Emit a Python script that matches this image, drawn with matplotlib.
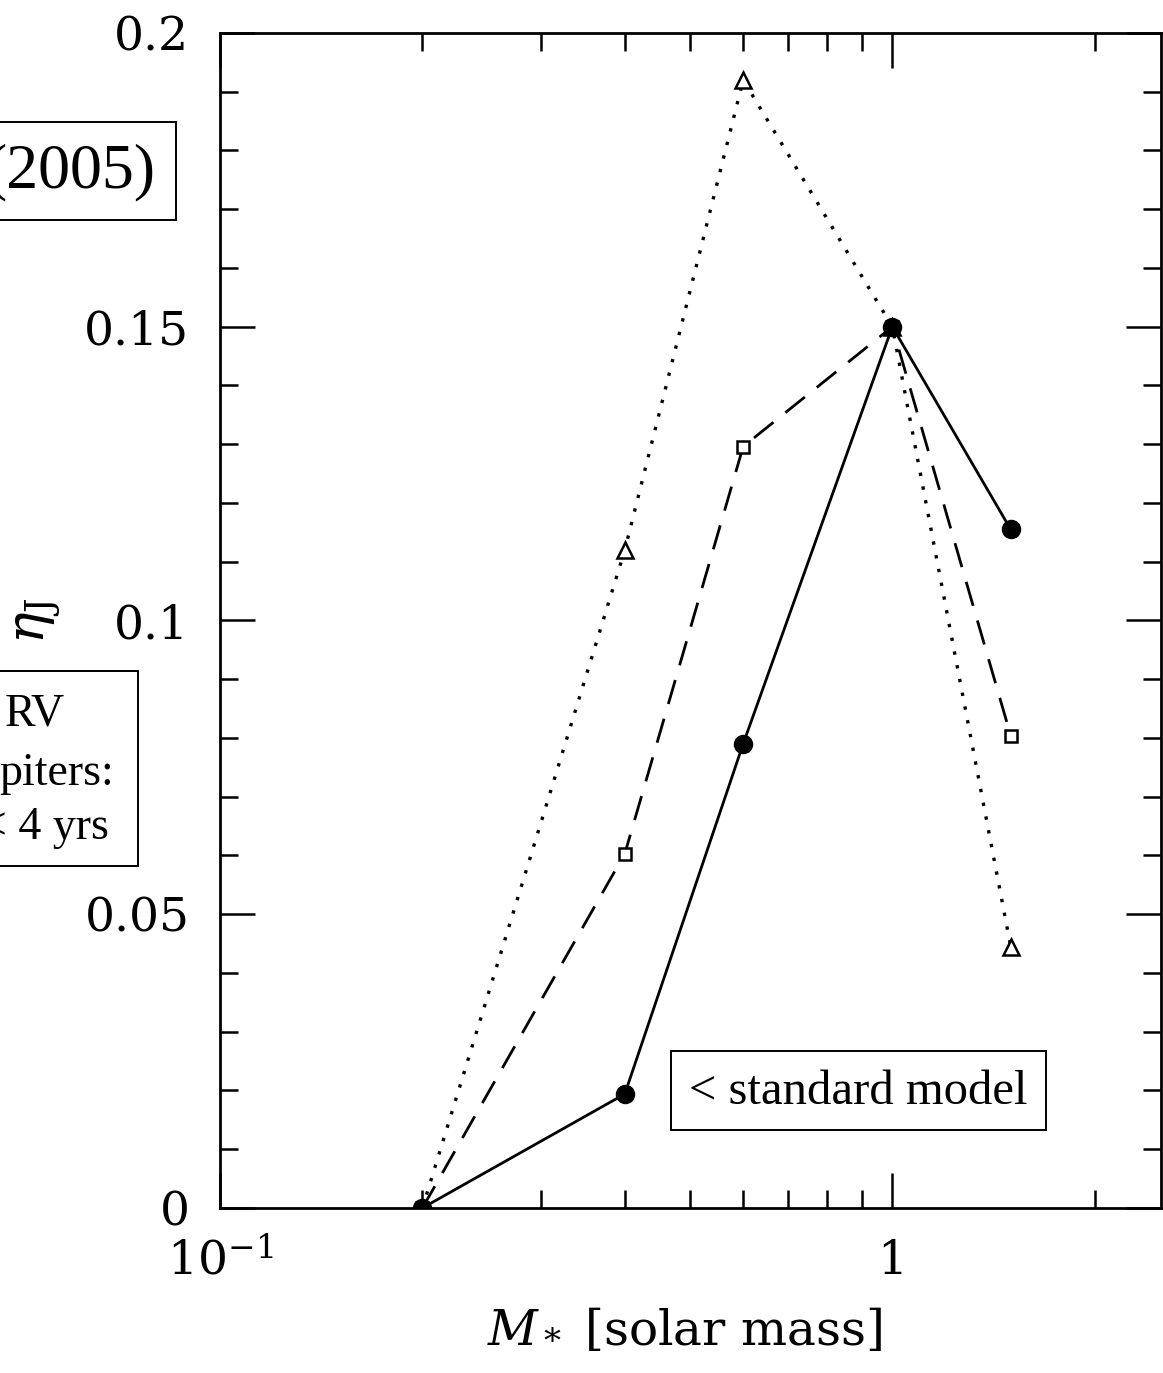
import matplotlib.pyplot as plt
import numpy as np
from matplotlib.patches import Rectangle
from matplotlib.ticker import FixedLocator, FixedFormatter, NullFormatter

# stellar mass [solar mass]
mass = [0.2, 0.4, 0.6, 1.0, 1.5]
# eta_J for three models
eta_solid = [0.0, 0.0194, 0.079, 0.150, 0.1155]
eta_dashed = [0.0, 0.0603, 0.1296, 0.150, 0.0804]
eta_dotted = [0.0, 0.112, 0.192, 0.150, 0.0445]

# axis ticks
xmajor = [0.1, 1]
xmajor_labels = [r'$10^{-1}$', '1']
xminor = [0.2, 0.3, 0.4, 0.5, 0.6, 0.7, 0.8, 0.9, 2.0]
ymajor = [0, 0.05, 0.1, 0.15, 0.2]
ymajor_labels = ['0', '0.05', '0.1', '0.15', '0.2']
yminor = [i / 100 for i in range(21)]

plt.rcParams['font.family'] = 'DejaVu Serif'
plt.rcParams['mathtext.fontset'] = 'dejavuserif'

fig = plt.figure(figsize=(11.63, 13.73), dpi=100)
ax = fig.add_axes([0.1892, 0.1202, 0.8091, 0.8558])

ax.plot(mass, eta_dotted, color='black', ls=(0, (1, 3.2)), lw=2.4,
        marker='^', ms=11, mfc='white', mec='black', mew=1.8)
ax.plot(mass, eta_dashed, color='black', ls=(0, (9, 5.5)), lw=2.0,
        marker='s', ms=9, mfc='white', mec='black', mew=1.8)
ax.plot(mass, eta_solid, color='black', ls='-', lw=2.0,
        marker='o', ms=13, mfc='black', mec='black')

ax.set_xscale('log')
ax.set_xlim(0.1, 2.51)
ax.set_ylim(0, 0.2)

ax.xaxis.set_major_locator(FixedLocator(xmajor))
ax.xaxis.set_major_formatter(FixedFormatter(xmajor_labels))
ax.xaxis.set_minor_locator(FixedLocator(xminor))
ax.xaxis.set_minor_formatter(NullFormatter())
ax.yaxis.set_major_locator(FixedLocator(ymajor))
ax.yaxis.set_major_formatter(FixedFormatter(ymajor_labels))
ax.yaxis.set_minor_locator(FixedLocator(yminor))

ax.tick_params(which='both', direction='in', top=True, right=True, width=1.8, colors='black')
ax.tick_params(which='major', length=25, labelsize=34, pad=22)
ax.tick_params(which='minor', length=13)
for s in ax.spines.values():
    s.set_linewidth(2.0)

fig.text(0.032, 0.548, r'$\eta_{\rm J}$', rotation=90, fontsize=38,
         ha='center', va='center')
fig.text(0.589, 0.031, r'$M_*$ [solar mass]', fontsize=35,
         ha='center', va='center')

W, H = 1163, 1373

def box(x0, y0, x1, y1):
    fig.patches.append(Rectangle((x0 / W, 1 - y1 / H), (x1 - x0) / W, (y1 - y0) / H,
                                 transform=fig.transFigure, fill=False,
                                 edgecolor='black', lw=1.4, clip_on=False))

serif = 'Liberation Serif'
box(-20, 122, 176, 220)
fig.text(155 / W, 1 - 172 / H, '(2005)', fontsize=46, family=serif, ha='right', va='center')

box(-20, 671, 138, 866)
fig.text(65 / W, 1 - 714 / H, 'RV', fontsize=33, family=serif, ha='right', va='center')
fig.text(114 / W, 1 - 774 / H, 'piters:', fontsize=33, family=serif, ha='right', va='center')
fig.text(109 / W, 1 - 828 / H, '< 4 yrs', fontsize=33, family=serif, ha='right', va='center')

box(671, 1051, 1046, 1130)
fig.text(858 / W, 1 - 1092 / H, '< standard model', fontsize=35, family=serif,
         ha='center', va='center')

fig.savefig('out.png', dpi=100)
